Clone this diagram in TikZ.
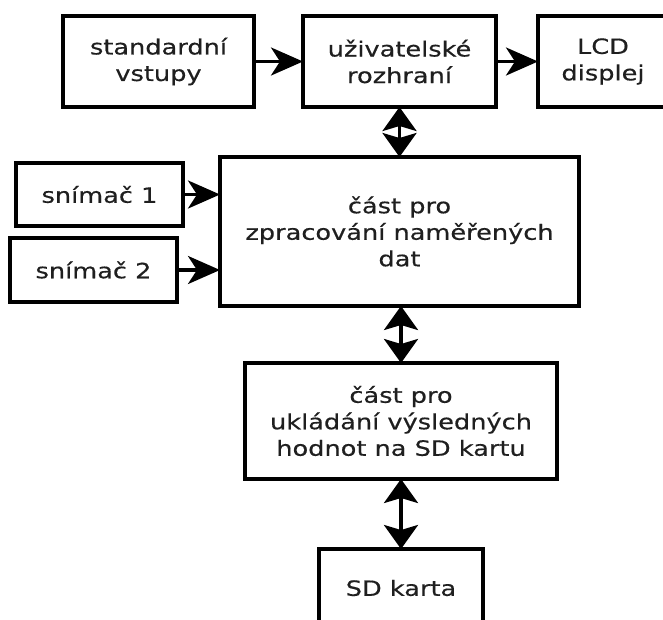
\documentclass[tikz,border=0pt]{standalone}
\usepackage{fontspec}
\setmainfont{DejaVu Sans}[FakeStretch=1.22, FakeBold=0.4]
\usetikzlibrary{arrows.meta}
\tikzset{
  blk/.style={draw=black, line width=3.5pt, rectangle, inner sep=0pt, outer sep=0pt,
    align=center, text=black!88,
    font=\fontsize{21}{26.5}\selectfont},
  hs/.tip={Stealth[length=32pt, width=28pt, inset=9pt]},
  vs/.tip={Stealth[length=24pt, width=34pt, inset=5pt]},
  link/.style={line width=3.5pt}
}
\begin{document}
\begin{tikzpicture}[x=1pt, y=-1pt]
  \useasboundingbox (0,0) rectangle (663,619);
  \clip (0,0) rectangle (663,619);

  % top row
  \node[blk, minimum width=191pt, minimum height=91pt] (std) at (158.5,61.5) {standardní\\vstupy};
  \node[blk, minimum width=193pt, minimum height=91pt] (ui)  at (399.5,61.5) {uživatelské\\rozhraní};
  \node[blk, minimum width=130pt, minimum height=91pt] (lcd) at (603,61.5)   {LCD\\displej};

  % sensors and processing unit
  \node[blk, minimum width=167pt, minimum height=63pt] (s1) at (99.5,194.5) {snímač 1};
  \node[blk, minimum width=167pt, minimum height=64pt] (s2) at (93.5,270)   {snímač 2};
  \node[blk, minimum width=359pt, minimum height=149pt] (proc) at (399.5,231.5)
    {část pro\\zpracování naměřených\\dat};

  % storage and card
  \node[blk, minimum width=312pt, minimum height=116pt] (store) at (401,421)
    {část pro\\ukládání výsledných\\hodnot na SD kartu};
  \node[blk, minimum width=164pt, minimum height=78pt] (sd) at (401,588) {SD karta};

  % connectors
  \draw[link, -hs] (std.east) -- (ui.west);
  \draw[link, -hs] (ui.east) -- (lcd.west);
  \draw[link, -hs] (s1.east) -- (s1.east -| proc.west);
  \draw[link, -hs] (s2.east) -- (s2.east -| proc.west);
  \draw[link, vs-vs] (ui.south) -- (proc.north);
  \draw[link, vs-vs] (proc.south -| store.north) -- (store.north);
  \draw[link, vs-vs] (store.south -| sd.north) -- (sd.north);
\end{tikzpicture}
\end{document}
